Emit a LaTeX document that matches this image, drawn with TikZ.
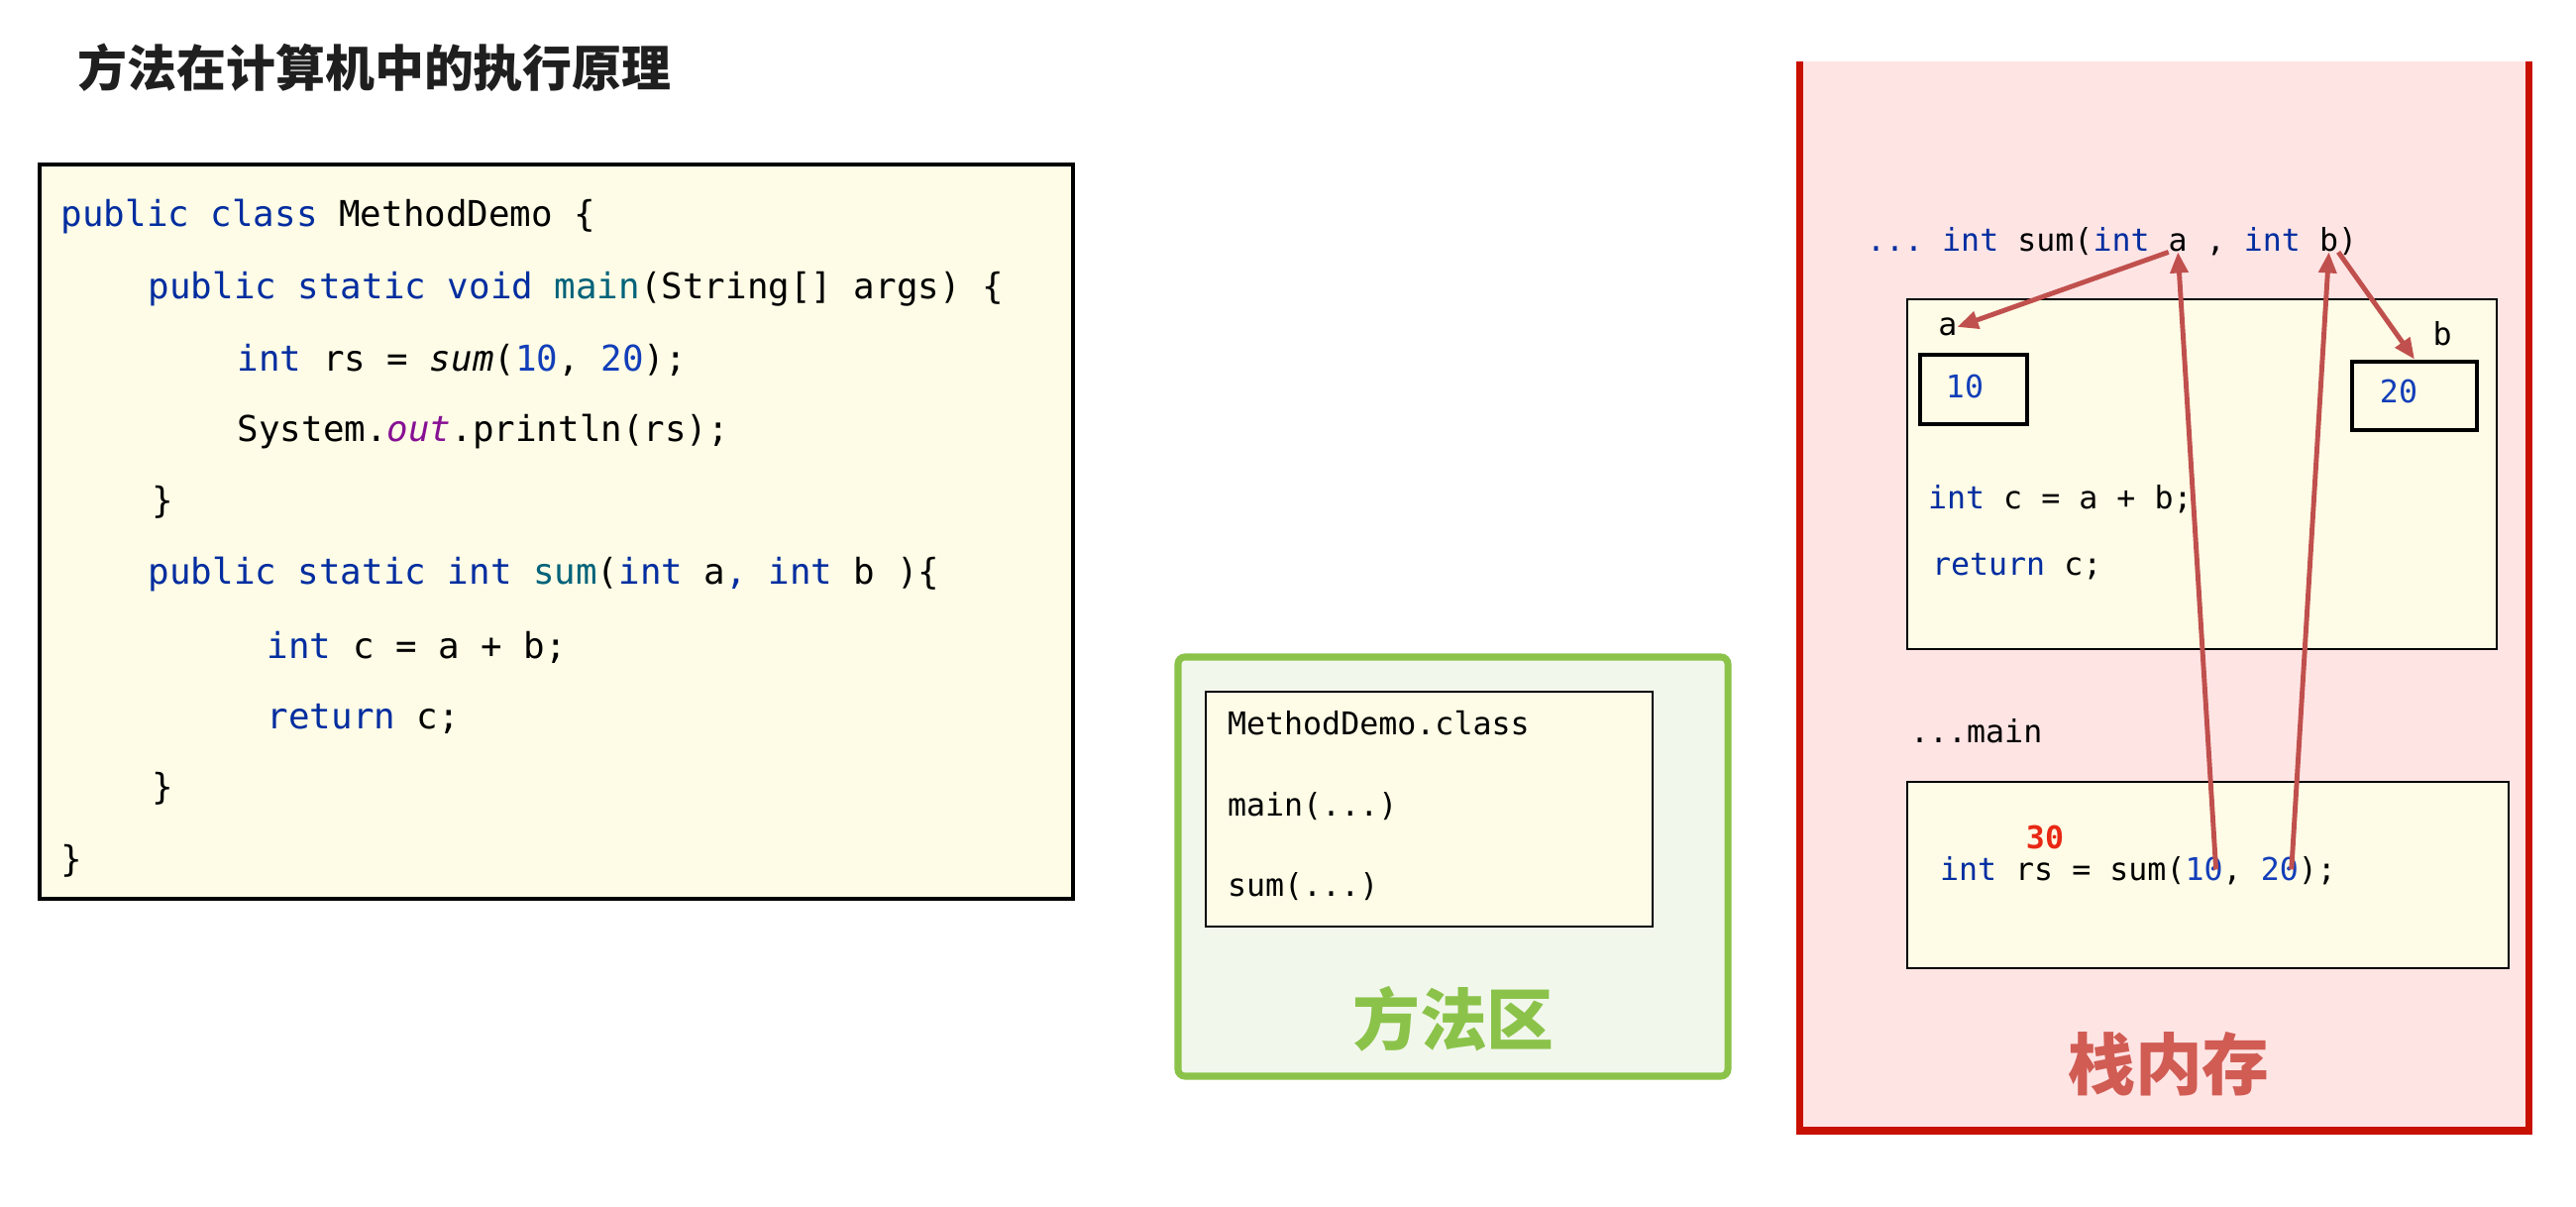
\documentclass[tikz,border=0pt]{standalone}
\usepackage{fontspec}
\setmonofont{DejaVu Sans Mono}
\newfontfamily\cjk{Noto Sans CJK SC}
\usepackage{xcolor}
\usetikzlibrary{positioning,arrows.meta}
\definecolor{kwblue}{RGB}{0,45,160}
\definecolor{numblue}{RGB}{18,62,185}
\definecolor{mteal}{RGB}{0,98,122}
\definecolor{fpurple}{RGB}{135,16,148}
\definecolor{cream}{RGB}{254,252,230}
\definecolor{areagreen}{RGB}{139,195,74}
\definecolor{areabg}{RGB}{242,247,236}
\definecolor{stackred}{RGB}{200,16,0}
\definecolor{stackbg}{RGB}{255,228,228}
\definecolor{stacktext}{RGB}{208,92,84}
\definecolor{arrowred}{RGB}{192,80,77}
\definecolor{resred}{RGB}{232,40,20}
\newcommand{\kw}[1]{\textcolor{kwblue}{#1}}
\newcommand{\numv}[1]{\textcolor{numblue}{#1}}

\begin{document}
\begin{tikzpicture}[
  codeline/.style={anchor=west, inner sep=0pt, font=\ttfamily\fontsize{10.2}{12}\selectfont},
  stackcode/.style={anchor=west, inner sep=0pt, outer sep=0pt, font=\ttfamily\fontsize{9}{11}\selectfont},
  piece/.style={stackcode, anchor=base west},
  framebox/.style={draw=black, line width=0.8pt, fill=cream},
  valbox/.style={draw=black, line width=1.4pt, fill=cream, inner sep=0pt},
  flow/.style={draw=arrowred, line width=1.4pt, -{Triangle[length=6pt,width=5pt]}},
  bigcjk/.style={font=\cjk\bfseries\fontsize{19.3}{22}\selectfont}]
  \useasboundingbox (0,0) rectangle (26,12.17);
  \fill[white] (0,0) rectangle (26,12.17);

  % title
  \node[anchor=west, inner sep=0pt, text=black!88, font=\cjk\bfseries\fontsize{14.2}{16}\selectfont]
    (title) at (0.78,11.49) {方法在计算机中的执行原理};

  % source code
  \draw[fill=cream, draw=black, line width=1.2pt] (0.40,3.10) rectangle (10.83,10.51);
  \node[codeline] (l1) at (0.61,9.98) {\kw{public class} MethodDemo \{};
  \node[codeline] (l2) at (1.49,9.25) {\kw{public static void} \textcolor{mteal}{main}(String[] args) \{};
  \node[codeline] (l3) at (2.39,8.54) {\kw{int} rs = \textit{sum}(\numv{10}, \numv{20});};
  \node[codeline] (l4) at (2.39,7.81) {System.\textcolor{fpurple}{\textit{out}}.println(rs);};
  \node[codeline] (l5) at (1.53,7.10) {\}};
  \node[codeline] (l6) at (1.49,6.37) {\kw{public static int} \textcolor{mteal}{sum}(\kw{int} a\kw{,} \kw{int} b )\{};
  \node[codeline] (l7) at (2.69,5.64) {\kw{int} c = a + b;};
  \node[codeline] (l8) at (2.69,4.92) {\kw{return} c;};
  \node[codeline] (l9) at (1.53,4.21) {\}};
  \node[codeline] (l10) at (0.61,3.48) {\}};

  % method area
  \draw[fill=areabg, draw=areagreen, line width=2pt, rounded corners=2pt] (11.89,1.31) rectangle (17.44,5.54);
  \draw[framebox] (12.17,2.82) rectangle (16.68,5.19);
  \node[stackcode] (cls) at (12.39,4.87) {MethodDemo.class};
  \node[stackcode] (mmain) at (12.39,4.03) {main(...)};
  \node[stackcode] (msum) at (12.39,3.22) {sum(...)};
  \node[bigcjk, text=areagreen] (area) at (14.67,1.89) {方法区};

  % stack memory
  \fill[stackbg] (18.16,0.76) rectangle (25.52,11.55);
  \draw[stackred, line width=2pt] (18.16,11.55) -- (18.16,0.76) -- (25.52,0.76) -- (25.52,11.55);
  \node[bigcjk, text=stacktext] (stack) at (21.89,1.43) {栈内存};

  % sum frame
  \node[stackcode] (sighead) at (18.84,9.73) {\kw{... int} sum(\kw{int}};
  \node[piece, base right=5.42pt of sighead] (pa) {a};
  \node[piece, base right=5.42pt of pa] (sigmid) {, \kw{int}};
  \node[piece, base right=5.42pt of sigmid] (pb) {b};
  \node[piece, base right=0pt of pb] (sigtail) {)};
  \draw[framebox] (19.25,5.62) rectangle (25.20,9.15);
  \node[stackcode, anchor=center] (lbla) at (19.66,8.87) {a};
  \node[stackcode, anchor=center] (lblb) at (24.65,8.80) {b};
  \node[valbox, minimum width=1.08cm, minimum height=0.70cm] (bx10) at (19.92,8.24) {};
  \node[valbox, minimum width=1.26cm, minimum height=0.69cm] (bx20) at (24.37,8.175) {};
  \node[stackcode, anchor=center, text=numblue] (v10) at (19.83,8.27) {10};
  \node[stackcode, anchor=center, text=numblue] (v20) at (24.21,8.22) {20};
  \node[stackcode] (sumc) at (19.46,7.13) {\kw{int} c = a + b;};
  \node[stackcode] (sumret) at (19.50,6.45) {\kw{return} c;};

  % main frame
  \node[stackcode] (mainlbl) at (19.28,4.79) {...main};
  \draw[framebox] (19.25,2.40) rectangle (25.32,4.28);
  \node[stackcode, anchor=center, text=resred, font=\ttfamily\bfseries\fontsize{9}{11}\selectfont] (res) at (20.64,3.72) {30};
  \node[stackcode] (callhead) at (19.58,3.38) {\kw{int} rs = sum(};
  \node[piece, base right=0pt of callhead] (arg10) {\numv{10}};
  \node[piece, base right=0pt of arg10] (callmid) {,};
  \node[piece, base right=5.42pt of callmid] (arg20) {\numv{20}};
  \node[piece, base right=0pt of arg20] (calltail) {);};

  % parameter passing
  \draw[flow] (pa.south west) -- (lbla.east);
  \draw[flow] (pb.south east) -- (bx20.north);
  \draw[flow] ([xshift=-2pt]arg10.east) -- (pa.south);
  \draw[flow] ([xshift=-2pt]arg20.east) -- (pb.south);
\end{tikzpicture}
\end{document}
